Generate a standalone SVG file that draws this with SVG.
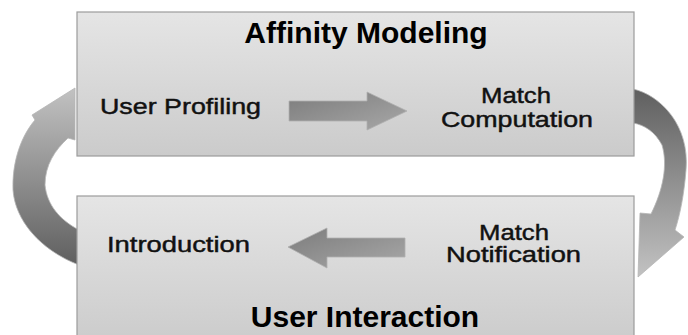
<svg xmlns="http://www.w3.org/2000/svg" width="688" height="335" viewBox="0 0 688 335">
  <defs>
    <linearGradient id="boxFill" x1="0" y1="0" x2="0" y2="1">
      <stop offset="0" stop-color="#e5e5e5"/>
      <stop offset="1" stop-color="#cbcbcb"/>
    </linearGradient>
    <linearGradient id="rightCurve" x1="0" y1="0" x2="0" y2="1">
      <stop offset="0" stop-color="#5f5f5f"/>
      <stop offset="1" stop-color="#c2c2c2"/>
    </linearGradient>
    <linearGradient id="leftCurve" x1="0" y1="1" x2="0" y2="0">
      <stop offset="0" stop-color="#5f5f5f"/>
      <stop offset="1" stop-color="#c2c2c2"/>
    </linearGradient>
    <linearGradient id="midArrow" x1="0" y1="0" x2="1" y2="1">
      <stop offset="0" stop-color="#7c7c7c"/>
      <stop offset="1" stop-color="#a8a8a8"/>
    </linearGradient>
    <style>
      .box { fill: url(#boxFill); stroke: #9c9c9c; stroke-width: 1.2; }
      .title { font-family: "Liberation Sans", Arial, sans-serif; font-weight: bold; font-size: 30px; fill: #000; text-anchor: middle; }
      .label { font-family: "Liberation Sans", Arial, sans-serif; font-size: 22px; fill: #111; stroke: #111; stroke-width: 0.45; }
      .curve { stroke: #b5b5b5; stroke-width: 0.8; }
      .mid { fill: url(#midArrow); stroke: #b0b0b0; stroke-width: 0.8; }
    </style>
  </defs>

  <rect width="688" height="335" fill="#ffffff"/>

  <g id="connectors">
    <path id="arrow-computation-to-notification" class="curve" fill="url(#rightCurve)"
      d="M633,89 C660,95 690,125 686,170 C684,195 680,215 675,230 L684,237 L638,277 L640,213 L651,214 C663,190 668,165 662,145 C655,132 645,125 633,123 Z"/>
    <path id="arrow-introduction-to-profiling" class="curve" fill="url(#leftCurve)"
      d="M79,265 C40,250 15,220 13,190 C12,160 22,135 35,120 L32,115 L75,88 L75,140 L68,138 C55,150 45,165 45,185 C47,205 60,220 79,230 Z"/>
  </g>

  <g id="node-affinity-modeling">
    <rect class="box" x="77" y="12" width="557" height="144"/>
    <text class="title" x="366" y="43">Affinity Modeling</text>
  </g>

  <g id="node-user-interaction">
    <rect class="box" x="77" y="196" width="557" height="150"/>
    <text class="title" x="365" y="327">User Interaction</text>
  </g>

  <g id="connectors-inner">
    <path id="arrow-profiling-to-computation" class="mid"
      d="M289,101 L367,101 L367,92 L407,111 L367,130 L367,121 L289,121 Z"/>
    <path id="arrow-notification-to-introduction" class="mid"
      d="M405,238 L327,238 L327,228 L288,247 L327,268 L327,257 L405,257 Z"/>
  </g>

  <g id="node-user-profiling">
    <text class="label" x="100" y="114" textLength="161" lengthAdjust="spacingAndGlyphs">User Profiling</text>
  </g>
  <g id="node-match-computation">
    <text class="label" x="481" y="103" textLength="70" lengthAdjust="spacingAndGlyphs">Match</text>
    <text class="label" x="441" y="127" textLength="152" lengthAdjust="spacingAndGlyphs">Computation</text>
  </g>
  <g id="node-introduction">
    <text class="label" x="107" y="252" textLength="143" lengthAdjust="spacingAndGlyphs">Introduction</text>
  </g>
  <g id="node-match-notification">
    <text class="label" x="479" y="240" textLength="70" lengthAdjust="spacingAndGlyphs">Match</text>
    <text class="label" x="446" y="262" textLength="135" lengthAdjust="spacingAndGlyphs">Notification</text>
  </g>
</svg>
